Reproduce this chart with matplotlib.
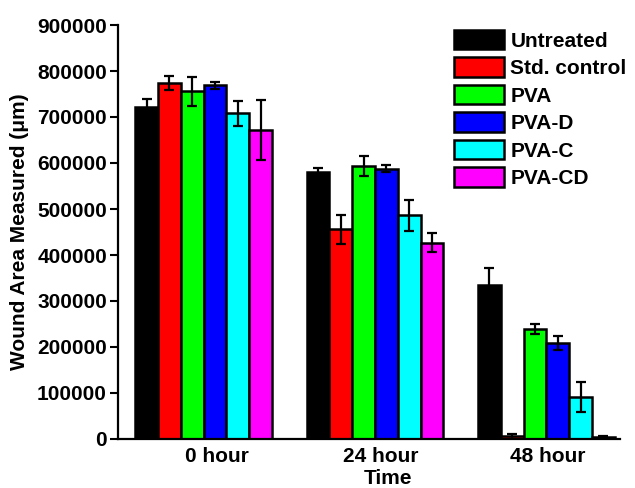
import numpy as np
import matplotlib.pyplot as plt

plt.rcParams['font.family'] = ['Liberation Sans', 'DejaVu Sans']
plt.rcParams['font.weight'] = 'bold'

times = ['0 hour', '24 hour', '48 hour']
groups = ['Untreated', 'Std. control', 'PVA', 'PVA-D', 'PVA-C', 'PVA-CD']
colors = ['#000000', '#ff0000', '#00ff00', '#0000ff', '#00ffff', '#ff00ff']

untreated = [722000, 580000, 335000]
std_control = [774000, 456000, 6000]
pva = [756000, 594000, 239000]
pva_d = [769000, 588000, 208000]
pva_c = [708000, 486000, 91000]
pva_cd = [672000, 427000, 4000]

untreated_err = [17000, 9000, 36000]
std_control_err = [15000, 32000, 5000]
pva_err = [32000, 22000, 10000]
pva_d_err = [8000, 7000, 15000]
pva_c_err = [27000, 33000, 33000]
pva_cd_err = [65000, 20000, 3000]

values = [untreated, std_control, pva, pva_d, pva_c, pva_cd]
errors = [untreated_err, std_control_err, pva_err, pva_d_err, pva_c_err, pva_cd_err]

fig = plt.figure(figsize=(6.35, 4.88), dpi=100)
ax = fig.add_axes([118 / 635, 1 - 439 / 488, (620 - 118) / 635, (439 - 25) / 488])

x = np.arange(len(times))
width = 0.133
for i, (name, vals, errs, c) in enumerate(zip(groups, values, errors, colors)):
    pos = x + (i - 2.5) * width
    ax.bar(pos, vals, width, color=c, edgecolor='black', linewidth=1.8, label=name, zorder=2)
    ax.errorbar(pos, vals, yerr=errs, fmt='none', ecolor='black', elinewidth=1.6,
                capsize=3.7, capthick=1.6, zorder=3)

ax.set_xlim(-0.50, 2.43)
ax.set_ylim(0, 900000)
ax.set_yticks(np.arange(0, 900001, 100000))
# tick labels sit slightly right of the group centres in the original
ax.set_xticks(x + np.array([0.08, 0.035, 0.01]))
ax.set_xticklabels(times)
ax.tick_params(axis='x', length=0, labelsize=15, pad=6)
ax.tick_params(axis='y', direction='out', length=6, width=1.5, labelsize=15, pad=2)
for lab in ax.get_xticklabels() + ax.get_yticklabels():
    lab.set_fontweight('bold')

ax.spines['top'].set_visible(False)
ax.spines['right'].set_visible(False)
ax.spines['left'].set_linewidth(1.6)
ax.spines['bottom'].set_linewidth(1.6)

ax.set_xlabel('Time', fontsize=15, fontweight='bold')
ax.xaxis.set_label_coords(0.537, -0.072)
ax.set_ylabel('Wound Area Measured (\u03bcm)', fontsize=15, fontweight='bold')
ax.yaxis.set_label_coords(-0.178, 0.5)

ax.legend(loc='upper left', bbox_to_anchor=(454 / 635, 1 - 30 / 488),
          bbox_transform=fig.transFigure, frameon=False, fontsize=15,
          handlelength=2.4, handleheight=1.05, labelspacing=0.32,
          handletextpad=0.3, borderpad=0, borderaxespad=0)

fig.savefig('out.png', dpi=100)
